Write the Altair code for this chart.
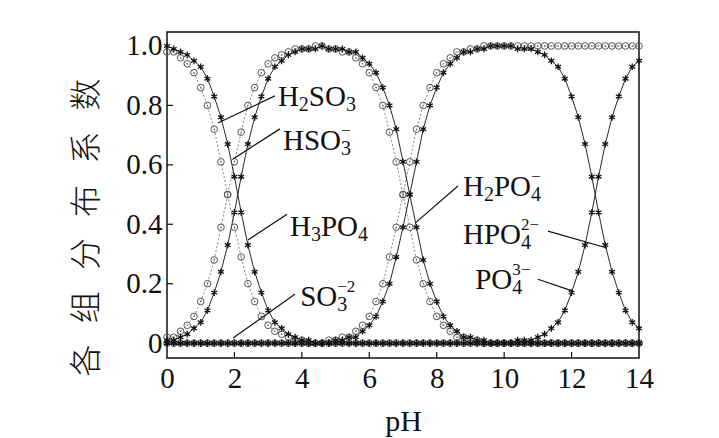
import altair as alt
import pandas as pd

# ---------------- data ----------------
PH = [0.0, 0.2, 0.4, 0.6, 0.8, 1.0, 1.2, 1.4, 1.6, 1.8,
      2.0, 2.2, 2.4, 2.6, 2.8, 3.0, 3.2, 3.4, 3.6, 3.8,
      4.0, 4.2, 4.4, 4.6, 4.8, 5.0, 5.2, 5.4, 5.6, 5.8,
      6.0, 6.2, 6.4, 6.6, 6.8, 7.0, 7.2, 7.4, 7.6, 7.8,
      8.0, 8.2, 8.4, 8.6, 8.8, 9.0, 9.2, 9.4, 9.6, 9.8,
      10.0, 10.2, 10.4, 10.6, 10.8, 11.0, 11.2, 11.4, 11.6, 11.8,
      12.0, 12.2, 12.4, 12.6, 12.8, 13.0, 13.2, 13.4, 13.6, 13.8,
      14.0]

H2SO3 = [0.98, 0.98, 0.96, 0.94, 0.91, 0.86, 0.80, 0.72, 0.61, 0.50,
         0.39, 0.29, 0.20, 0.14, 0.09, 0.06, 0.04, 0.03, 0.02, 0.01,
         0.01, 0.00, 0.00, 0.00, 0.00, 0.00, 0.00, 0.00, 0.00, 0.00,
         0.00, 0.00, 0.00, 0.00, 0.00, 0.00, 0.00, 0.00, 0.00, 0.00,
         0.00, 0.00, 0.00, 0.00, 0.00, 0.00, 0.00, 0.00, 0.00, 0.00,
         0.00, 0.00, 0.00, 0.00, 0.00, 0.00, 0.00, 0.00, 0.00, 0.00,
         0.00, 0.00, 0.00, 0.00, 0.00, 0.00, 0.00, 0.00, 0.00, 0.00,
         0.00]
HSO3 = [0.02, 0.02, 0.04, 0.06, 0.09, 0.14, 0.20, 0.28, 0.39, 0.50,
        0.61, 0.71, 0.80, 0.86, 0.91, 0.94, 0.96, 0.97, 0.98, 0.99,
        0.99, 0.99, 1.00, 1.00, 0.99, 0.99, 0.98, 0.98, 0.96, 0.94,
        0.91, 0.86, 0.80, 0.71, 0.61, 0.50, 0.39, 0.28, 0.20, 0.14,
        0.09, 0.06, 0.04, 0.02, 0.02, 0.01, 0.01, 0.00, 0.00, 0.00,
        0.00, 0.00, 0.00, 0.00, 0.00, 0.00, 0.00, 0.00, 0.00, 0.00,
        0.00, 0.00, 0.00, 0.00, 0.00, 0.00, 0.00, 0.00, 0.00, 0.00,
        0.00]
SO3 = [0.00, 0.00, 0.00, 0.00, 0.00, 0.00, 0.00, 0.00, 0.00, 0.00,
       0.00, 0.00, 0.00, 0.00, 0.00, 0.00, 0.00, 0.00, 0.00, 0.00,
       0.00, 0.00, 0.00, 0.00, 0.01, 0.01, 0.02, 0.02, 0.04, 0.06,
       0.09, 0.14, 0.20, 0.29, 0.39, 0.50, 0.61, 0.72, 0.80, 0.86,
       0.91, 0.94, 0.96, 0.98, 0.98, 0.99, 0.99, 1.00, 1.00, 1.00,
       1.00, 1.00, 1.00, 1.00, 1.00, 1.00, 1.00, 1.00, 1.00, 1.00,
       1.00, 1.00, 1.00, 1.00, 1.00, 1.00, 1.00, 1.00, 1.00, 1.00,
       1.00]
H3PO4 = [1.00, 0.99, 0.98, 0.97, 0.95, 0.93, 0.89, 0.83, 0.76, 0.67,
         0.56, 0.44, 0.33, 0.24, 0.17, 0.11, 0.07, 0.05, 0.03, 0.02,
         0.01, 0.01, 0.00, 0.00, 0.00, 0.00, 0.00, 0.00, 0.00, 0.00,
         0.00, 0.00, 0.00, 0.00, 0.00, 0.00, 0.00, 0.00, 0.00, 0.00,
         0.00, 0.00, 0.00, 0.00, 0.00, 0.00, 0.00, 0.00, 0.00, 0.00,
         0.00, 0.00, 0.00, 0.00, 0.00, 0.00, 0.00, 0.00, 0.00, 0.00,
         0.00, 0.00, 0.00, 0.00, 0.00, 0.00, 0.00, 0.00, 0.00, 0.00,
         0.00]
H2PO4 = [0.01, 0.01, 0.02, 0.03, 0.05, 0.07, 0.11, 0.17, 0.24, 0.33,
         0.44, 0.56, 0.67, 0.76, 0.83, 0.89, 0.93, 0.95, 0.97, 0.98,
         0.99, 0.99, 0.99, 1.00, 0.99, 0.99, 0.99, 0.98, 0.98, 0.96,
         0.94, 0.91, 0.86, 0.80, 0.72, 0.61, 0.50, 0.39, 0.28, 0.20,
         0.14, 0.09, 0.06, 0.04, 0.02, 0.02, 0.01, 0.01, 0.00, 0.00,
         0.00, 0.00, 0.00, 0.00, 0.00, 0.00, 0.00, 0.00, 0.00, 0.00,
         0.00, 0.00, 0.00, 0.00, 0.00, 0.00, 0.00, 0.00, 0.00, 0.00,
         0.00]
HPO4 = [0.00, 0.00, 0.00, 0.00, 0.00, 0.00, 0.00, 0.00, 0.00, 0.00,
        0.00, 0.00, 0.00, 0.00, 0.00, 0.00, 0.00, 0.00, 0.00, 0.00,
        0.00, 0.00, 0.00, 0.00, 0.00, 0.01, 0.01, 0.02, 0.02, 0.04,
        0.06, 0.09, 0.14, 0.20, 0.29, 0.39, 0.50, 0.61, 0.72, 0.80,
        0.86, 0.91, 0.94, 0.96, 0.98, 0.98, 0.99, 0.99, 1.00, 1.00,
        1.00, 1.00, 0.99, 0.99, 0.99, 0.98, 0.97, 0.95, 0.93, 0.89,
        0.83, 0.76, 0.67, 0.56, 0.44, 0.33, 0.24, 0.17, 0.11, 0.07,
        0.05]
PO4 = [0.00, 0.00, 0.00, 0.00, 0.00, 0.00, 0.00, 0.00, 0.00, 0.00,
       0.00, 0.00, 0.00, 0.00, 0.00, 0.00, 0.00, 0.00, 0.00, 0.00,
       0.00, 0.00, 0.00, 0.00, 0.00, 0.00, 0.00, 0.00, 0.00, 0.00,
       0.00, 0.00, 0.00, 0.00, 0.00, 0.00, 0.00, 0.00, 0.00, 0.00,
       0.00, 0.00, 0.00, 0.00, 0.00, 0.00, 0.00, 0.00, 0.00, 0.00,
       0.00, 0.00, 0.01, 0.01, 0.01, 0.02, 0.03, 0.05, 0.07, 0.11,
       0.17, 0.24, 0.33, 0.44, 0.56, 0.67, 0.76, 0.83, 0.89, 0.93,
       0.95]

X_TICKS = [0, 2, 4, 6, 8, 10, 12, 14]
Y_TICKS = [0, 0.2, 0.4, 0.6, 0.8, 1.0]
INNER_X_TICKS = [2, 4, 6, 8, 10, 12]
INNER_Y_TICKS = [0.2, 0.4, 0.6, 0.8]

# species labels ("_" = next char subscript, "^" = rest superscript)
LABELS = ["H_2SO_3", "HSO_3^−", "H_3PO_4", "SO_3^−2", "H_2PO_4^−", "HPO_4^2−", "PO_4^3−"]
LABEL_PH = [3.29, 3.44, 3.65, 3.95, 8.78, 8.78, 9.14]
LABEL_V = [0.798, 0.650, 0.360, 0.125, 0.495, 0.333, 0.182]
# leader lines (label end -> curve point)
LEAD_PH1 = [3.20, 3.35, 3.56, 3.80, 8.63, 11.30, 11.00]
LEAD_V1 = [0.832, 0.721, 0.434, 0.165, 0.529, 0.377, 0.215]
LEAD_PH2 = [1.51, 1.96, 2.40, 1.96, 7.36, 13.05, 12.04]
LEAD_V2 = [0.741, 0.620, 0.347, 0.017, 0.404, 0.320, 0.175]

# ---------------- layout ----------------
W, H = 472, 326
YMIN, YMAX = -0.05, 1.047
PX_X = W / 14.0
PX_Y = H / (YMAX - YMIN)
SERIF = "Liberation Serif"

rows = []
for name, vals, fam in [("H2SO3", H2SO3, "S"), ("HSO3", HSO3, "S"), ("SO3", SO3, "S"),
                        ("H3PO4", H3PO4, "P"), ("H2PO4", H2PO4, "P"),
                        ("HPO4", HPO4, "P"), ("PO4", PO4, "P")]:
    for p, v in zip(PH, vals):
        rows.append({"pH": p, "v": v, "sp": name, "fam": fam})
df = pd.DataFrame(rows)
sul = df[df.fam == "S"]
pho = df[df.fam == "P"]

CW = {"H": 0.722, "S": 0.556, "O": 0.722, "P": 0.556, "−": 0.564}
def tw(s, fs):
    return sum(CW.get(c, 0.5) for c in s) * fs

FS_N, FS_B, FS_P = 29, 20, 17
DY_B, DY_P = 5, -14

trows = []
for lab, x0, y0 in zip(LABELS, LABEL_PH, LABEL_V):
    cur = 0.0
    sub_start = None
    i = 0
    pieces = []
    while i < len(lab):
        c = lab[i]
        if c == "_":
            pieces.append((lab[i + 1], "b"))
            i += 2
        elif c == "^":
            pieces.append((lab[i + 1:], "p"))
            break
        else:
            j = i
            while j < len(lab) and lab[j] not in "_^":
                j += 1
            pieces.append((lab[i:j], "n"))
            i = j
    prev = None
    for txt, kind in pieces:
        if kind == "n":
            fs, dy, start = FS_N, 0, cur
            cur += tw(txt, fs)
        elif kind == "b":
            fs, dy, start = FS_B, DY_B, cur
            sub_start = cur
            cur += tw(txt, fs)
        else:
            fs, dy = FS_P, DY_P
            start = sub_start if prev == "b" else cur
            cur = max(cur, start + tw(txt, fs))
        trows.append({"pH": x0 + start / PX_X, "v": y0 - dy / PX_Y, "t": txt, "fs": fs})
        prev = kind
tdf = pd.DataFrame(trows)

ldf = pd.DataFrame({"pH": LEAD_PH1, "v": LEAD_V1, "pH2": LEAD_PH2, "v2": LEAD_V2})

xs = alt.Scale(domain=[0, 14], nice=False, zero=False)
ys = alt.Scale(domain=[YMIN, YMAX], nice=False, zero=False)

YTITLE = "\u00a0\u00a0\u00a0".join(list("各组分布系数"))

X = alt.X("pH:Q", scale=xs, axis=alt.Axis(
    values=X_TICKS, title="pH", grid=False, ticks=False, tickSize=0, domain=False,
    labelFont=SERIF, labelFontSize=29, labelColor="#111", labelPadding=6,
    titleFont=SERIF, titleFontSize=30, titleFontWeight="normal", titleColor="#111",
    titlePadding=13, labelFlush=False))
Y = alt.Y("v:Q", scale=ys, axis=alt.Axis(
    values=Y_TICKS, title=YTITLE,
    grid=False, ticks=False, tickSize=0, domain=False,
    labelExpr="datum.value == 0 ? '0' : format(datum.value, '.1f')",
    labelFont=SERIF, labelFontSize=29, labelColor="#111", labelPadding=5,
    titleFont="Noto Sans CJK SC", titleFontSize=32, titleFontWeight=300, titleColor="#111",
    titleAngle=270, titleAlign="center", titleBaseline="middle", titleX=-81, titleY=195,
    labelFlush=False))

sul_line = alt.Chart(sul).mark_line(color="#777", strokeDash=[2, 2], strokeWidth=0.9).encode(
    x=X, y=Y, detail="sp:N")
pho_line = alt.Chart(pho).mark_line(color="#111", strokeWidth=0.9).encode(
    x=X, y=Y, detail="sp:N")
circles = alt.Chart(sul).mark_point(shape="circle", filled=False, color="#555",
                                    strokeWidth=1.0, size=44, opacity=1).encode(x=X, y=Y)
dots = alt.Chart(sul).mark_point(shape="circle", filled=True, color="#555",
                                 size=2, opacity=1).encode(x=X, y=Y)
STAR = "M0,-1L0,1M-0.87,-0.5L0.87,0.5M-0.87,0.5L0.87,-0.5"
stars = alt.Chart(pho).mark_point(shape=STAR, filled=False, color="#111",
                                  strokeWidth=1.3, size=45, opacity=1).encode(x=X, y=Y)

leaders = alt.Chart(ldf).mark_rule(color="#111", strokeWidth=1.2).encode(
    x=X, y=Y, x2="pH2:Q", y2="v2:Q")
texts = alt.Chart(tdf).mark_text(font=SERIF, align="left", baseline="alphabetic",
                                 color="#111").encode(
    x=X, y=Y, text="t:N", size=alt.Size("fs:Q", scale=None))

xt = alt.Chart(pd.DataFrame({"pH": INNER_X_TICKS})).mark_rule(color="#111", strokeWidth=1.2).encode(
    x=X, y=alt.value(H), y2=alt.value(H - 6))
yt = alt.Chart(pd.DataFrame({"v": INNER_Y_TICKS})).mark_rule(color="#111", strokeWidth=1.2).encode(
    y=Y, x=alt.value(0), x2=alt.value(6))

chart = alt.layer(sul_line, pho_line, circles, dots, stars, leaders, texts, xt, yt).properties(
    width=W, height=H,
    padding={"left": 62, "top": 23, "right": 10, "bottom": 5},
    background="white",
).configure_view(stroke="#111", strokeWidth=1.5)

chart.save("out.html", embed_options={"renderer": "svg", "actions": False})
